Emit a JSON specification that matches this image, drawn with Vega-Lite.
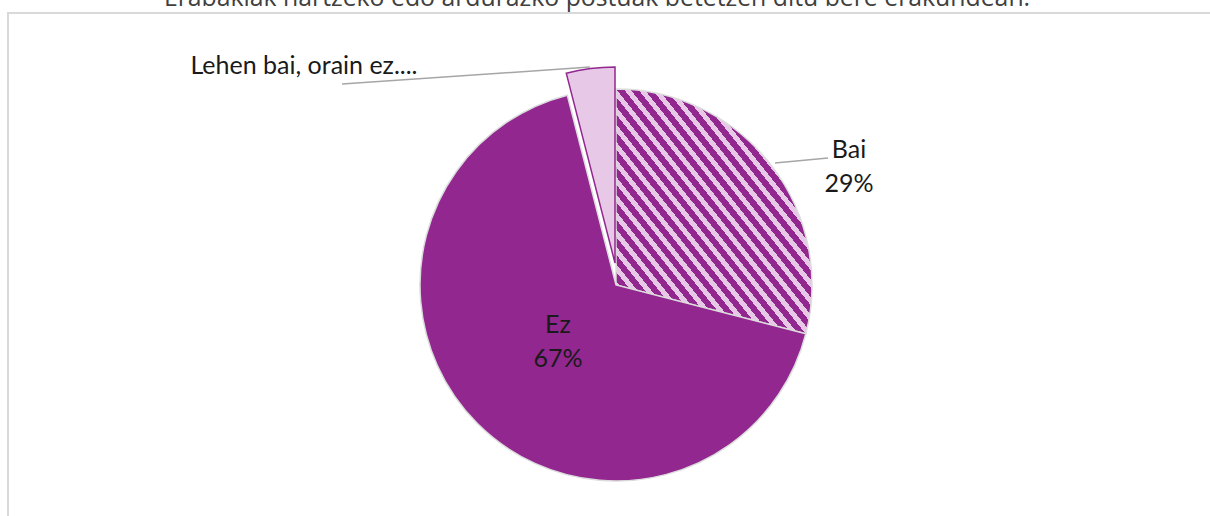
{
  "$schema": "https://vega.github.io/schema/vega-lite/v6.json",
  "autosize": {"type": "none"},
  "padding": {"left": 8, "top": 13, "right": 0, "bottom": 0},
  "width": 1216,
  "height": 544,
  "background": "white",
  "view": {"stroke": "#d9d9d9", "strokeWidth": 2},
  "title": {
    "text": "Erabakiak hartzeko edo ardurazko postuak betetzen ditu bere erakundean.",
    "anchor": "middle",
    "frame": "group",
    "font": "Open Sans",
    "fontSize": 24.8,
    "fontWeight": "normal",
    "color": "#404040",
    "offset": 2,
    "dx": -19
  },
  "datasets": {
    "slices": [
      {"category": "Bai", "value": 29},
      {"category": "Ez", "value": 67},
      {"category": "Lehen bai, orain ez....", "value": 4}
    ],
    "labels": [
      {"label": "Bai\n29%", "x": 1.189, "y": 0.689},
      {"label": "Ez\n67%", "x": -0.296, "y": -0.204},
      {"label": "Lehen bai, orain ez....", "x": -1.592, "y": 1.117}
    ],
    "leaders": [
      {"x": 0.811, "y": 0.622, "x2": 1.082, "y2": 0.648},
      {"x": -1.398, "y": 1.026, "x2": -0.133, "y2": 1.112}
    ]
  },
  "layer": [
    {
      "data": {"name": "slices"},
      "mark": {"type": "arc", "outerRadius": 196, "strokeWidth": 1.5},
      "encoding": {
        "theta": {"field": "value", "type": "quantitative", "stack": true},
        "fill": {
          "condition": {
            "test": "datum.category === 'Bai'",
            "value": {
              "gradient": "linear", "x1": 0, "y1": 1, "x2": 1, "y2": 0,
              "stops": [
                {"offset": 0, "color": "#92278F"}, {"offset": 0.0196, "color": "#92278F"}, {"offset": 0.0196, "color": "#E8C8E7"}, {"offset": 0.0357, "color": "#E8C8E7"},
                {"offset": 0.0357, "color": "#92278F"}, {"offset": 0.0554, "color": "#92278F"}, {"offset": 0.0554, "color": "#E8C8E7"}, {"offset": 0.0714, "color": "#E8C8E7"},
                {"offset": 0.0714, "color": "#92278F"}, {"offset": 0.0911, "color": "#92278F"}, {"offset": 0.0911, "color": "#E8C8E7"}, {"offset": 0.1071, "color": "#E8C8E7"},
                {"offset": 0.1071, "color": "#92278F"}, {"offset": 0.1268, "color": "#92278F"}, {"offset": 0.1268, "color": "#E8C8E7"}, {"offset": 0.1429, "color": "#E8C8E7"},
                {"offset": 0.1429, "color": "#92278F"}, {"offset": 0.1625, "color": "#92278F"}, {"offset": 0.1625, "color": "#E8C8E7"}, {"offset": 0.1786, "color": "#E8C8E7"},
                {"offset": 0.1786, "color": "#92278F"}, {"offset": 0.1982, "color": "#92278F"}, {"offset": 0.1982, "color": "#E8C8E7"}, {"offset": 0.2143, "color": "#E8C8E7"},
                {"offset": 0.2143, "color": "#92278F"}, {"offset": 0.2339, "color": "#92278F"}, {"offset": 0.2339, "color": "#E8C8E7"}, {"offset": 0.25, "color": "#E8C8E7"},
                {"offset": 0.25, "color": "#92278F"}, {"offset": 0.2696, "color": "#92278F"}, {"offset": 0.2696, "color": "#E8C8E7"}, {"offset": 0.2857, "color": "#E8C8E7"},
                {"offset": 0.2857, "color": "#92278F"}, {"offset": 0.3054, "color": "#92278F"}, {"offset": 0.3054, "color": "#E8C8E7"}, {"offset": 0.3214, "color": "#E8C8E7"},
                {"offset": 0.3214, "color": "#92278F"}, {"offset": 0.3411, "color": "#92278F"}, {"offset": 0.3411, "color": "#E8C8E7"}, {"offset": 0.3571, "color": "#E8C8E7"},
                {"offset": 0.3571, "color": "#92278F"}, {"offset": 0.3768, "color": "#92278F"}, {"offset": 0.3768, "color": "#E8C8E7"}, {"offset": 0.3929, "color": "#E8C8E7"},
                {"offset": 0.3929, "color": "#92278F"}, {"offset": 0.4125, "color": "#92278F"}, {"offset": 0.4125, "color": "#E8C8E7"}, {"offset": 0.4286, "color": "#E8C8E7"},
                {"offset": 0.4286, "color": "#92278F"}, {"offset": 0.4482, "color": "#92278F"}, {"offset": 0.4482, "color": "#E8C8E7"}, {"offset": 0.4643, "color": "#E8C8E7"},
                {"offset": 0.4643, "color": "#92278F"}, {"offset": 0.4839, "color": "#92278F"}, {"offset": 0.4839, "color": "#E8C8E7"}, {"offset": 0.5, "color": "#E8C8E7"},
                {"offset": 0.5, "color": "#92278F"}, {"offset": 0.5196, "color": "#92278F"}, {"offset": 0.5196, "color": "#E8C8E7"}, {"offset": 0.5357, "color": "#E8C8E7"},
                {"offset": 0.5357, "color": "#92278F"}, {"offset": 0.5554, "color": "#92278F"}, {"offset": 0.5554, "color": "#E8C8E7"}, {"offset": 0.5714, "color": "#E8C8E7"},
                {"offset": 0.5714, "color": "#92278F"}, {"offset": 0.5911, "color": "#92278F"}, {"offset": 0.5911, "color": "#E8C8E7"}, {"offset": 0.6071, "color": "#E8C8E7"},
                {"offset": 0.6071, "color": "#92278F"}, {"offset": 0.6268, "color": "#92278F"}, {"offset": 0.6268, "color": "#E8C8E7"}, {"offset": 0.6429, "color": "#E8C8E7"},
                {"offset": 0.6429, "color": "#92278F"}, {"offset": 0.6625, "color": "#92278F"}, {"offset": 0.6625, "color": "#E8C8E7"}, {"offset": 0.6786, "color": "#E8C8E7"},
                {"offset": 0.6786, "color": "#92278F"}, {"offset": 0.6982, "color": "#92278F"}, {"offset": 0.6982, "color": "#E8C8E7"}, {"offset": 0.7143, "color": "#E8C8E7"},
                {"offset": 0.7143, "color": "#92278F"}, {"offset": 0.7339, "color": "#92278F"}, {"offset": 0.7339, "color": "#E8C8E7"}, {"offset": 0.75, "color": "#E8C8E7"},
                {"offset": 0.75, "color": "#92278F"}, {"offset": 0.7696, "color": "#92278F"}, {"offset": 0.7696, "color": "#E8C8E7"}, {"offset": 0.7857, "color": "#E8C8E7"},
                {"offset": 0.7857, "color": "#92278F"}, {"offset": 0.8054, "color": "#92278F"}, {"offset": 0.8054, "color": "#E8C8E7"}, {"offset": 0.8214, "color": "#E8C8E7"},
                {"offset": 0.8214, "color": "#92278F"}, {"offset": 0.8411, "color": "#92278F"}, {"offset": 0.8411, "color": "#E8C8E7"}, {"offset": 0.8571, "color": "#E8C8E7"},
                {"offset": 0.8571, "color": "#92278F"}, {"offset": 0.8768, "color": "#92278F"}, {"offset": 0.8768, "color": "#E8C8E7"}, {"offset": 0.8929, "color": "#E8C8E7"},
                {"offset": 0.8929, "color": "#92278F"}, {"offset": 0.9125, "color": "#92278F"}, {"offset": 0.9125, "color": "#E8C8E7"}, {"offset": 0.9286, "color": "#E8C8E7"},
                {"offset": 0.9286, "color": "#92278F"}, {"offset": 0.9482, "color": "#92278F"}, {"offset": 0.9482, "color": "#E8C8E7"}, {"offset": 0.9643, "color": "#E8C8E7"},
                {"offset": 0.9643, "color": "#92278F"}, {"offset": 0.9839, "color": "#92278F"}, {"offset": 0.9839, "color": "#E8C8E7"}, {"offset": 1, "color": "#E8C8E7"}
              ]
            }
          },
          "value": "#92278F"
        },
        "stroke": {"value": "#dcdcdc"},
        "opacity": {
          "condition": {"test": "datum.category === 'Lehen bai, orain ez....'", "value": 0},
          "value": 1
        }
      }
    },
    {
      "data": {"name": "slices"},
      "mark": {"type": "arc", "outerRadius": 196, "strokeWidth": 1.5, "xOffset": -1, "yOffset": -22},
      "encoding": {
        "theta": {"field": "value", "type": "quantitative", "stack": true},
        "fill": {"value": "#E8C8E7"},
        "stroke": {"value": "#92278F"},
        "opacity": {
          "condition": {"test": "datum.category === 'Lehen bai, orain ez....'", "value": 1},
          "value": 0
        }
      }
    },
    {
      "data": {"name": "leaders"},
      "mark": {"type": "rule", "color": "#a6a6a6", "strokeWidth": 1.5},
      "encoding": {
        "x": {"field": "x", "type": "quantitative", "scale": {"domain": [-3.102, 3.102], "nice": false, "zero": false}, "axis": null},
        "y": {"field": "y", "type": "quantitative", "scale": {"domain": [-1.388, 1.388], "nice": false, "zero": false}, "axis": null},
        "x2": {"field": "x2"},
        "y2": {"field": "y2"}
      }
    },
    {
      "data": {"name": "labels"},
      "mark": {"type": "text", "font": "Lato", "fontSize": 25, "color": "#1a1a1a", "align": "center", "baseline": "middle", "lineBreak": "\n", "lineHeight": 34},
      "encoding": {
        "x": {"field": "x", "type": "quantitative"},
        "y": {"field": "y", "type": "quantitative"},
        "text": {"field": "label"}
      }
    }
  ]
}
